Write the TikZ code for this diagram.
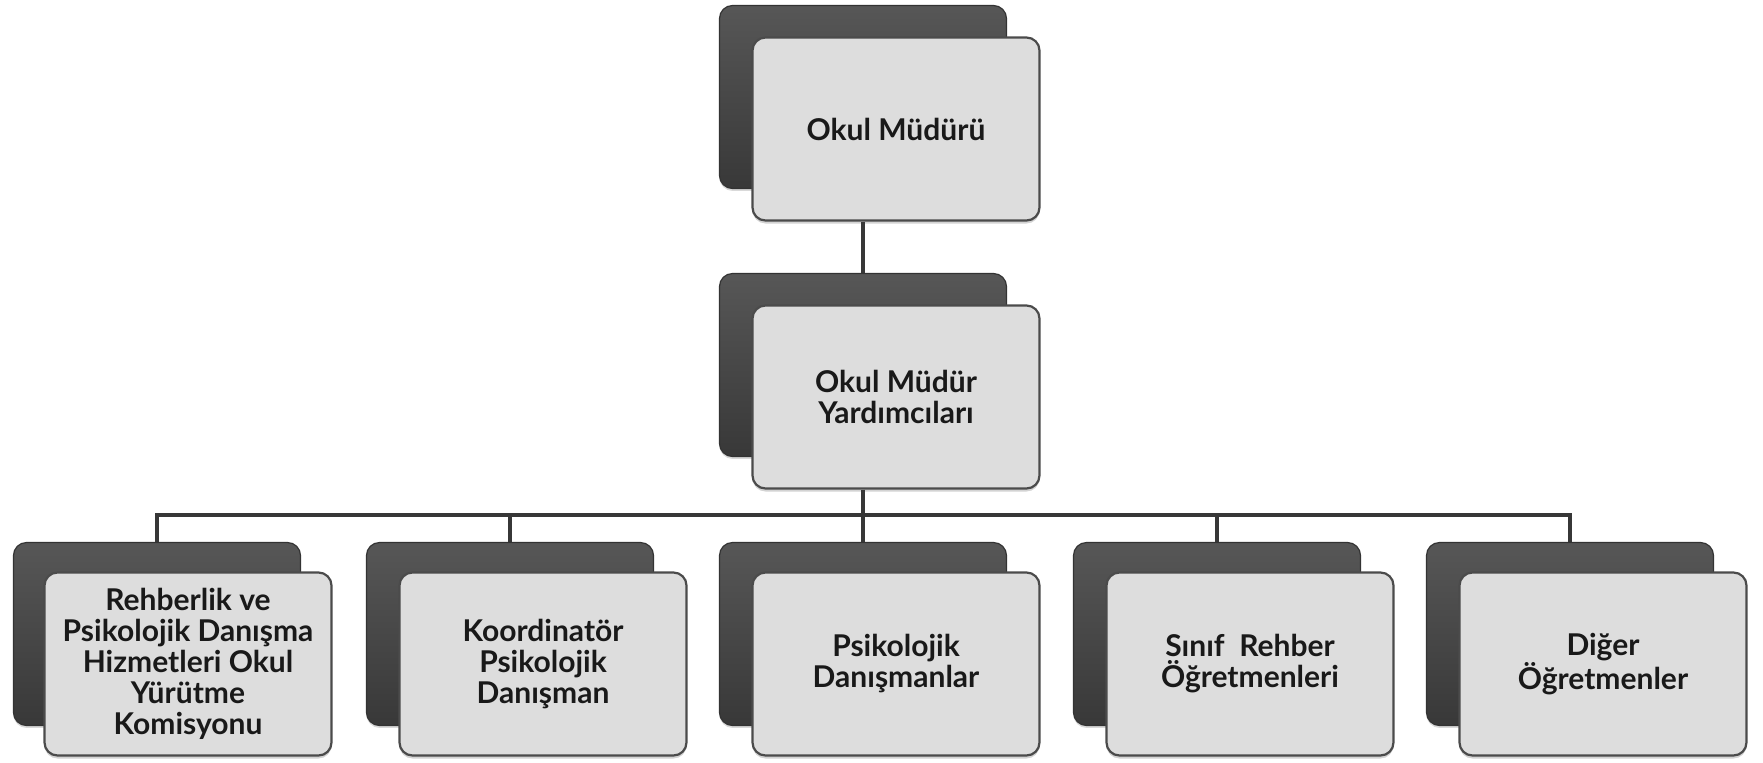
\documentclass[tikz,border=0pt]{standalone}
\usepackage{fontspec}
\setmainfont{Lato}
\usetikzlibrary{shadows}
\definecolor{darkgrey}{RGB}{66,66,66}
\definecolor{lightgrey}{RGB}{221,221,221}
\definecolor{edgegrey}{RGB}{75,75,75}
\definecolor{linegrey}{RGB}{55,55,55}
\tikzset{
   backbox/.style={rectangle, rounded corners=6.5pt, minimum width=143.5pt, minimum height=91.5pt,
      inner sep=0pt, top color=black!66, bottom color=black!78, draw=black!80, line width=0.6pt,
      drop shadow={shadow xshift=0pt, shadow yshift=-1.2pt, opacity=0.3}},
   frontbox/.style={rectangle, rounded corners=6.5pt, minimum width=143.5pt, minimum height=91.5pt,
      inner sep=0pt, fill=lightgrey, draw=edgegrey, line width=1.1pt, align=center, text=black!90,
      font=\bfseries\fontsize{15}{15.5}\selectfont,
      drop shadow={shadow xshift=0pt, shadow yshift=-1.5pt, opacity=0.35}},
   link/.style={draw=linegrey, line width=1.6pt}
}
\begin{document}
\begin{tikzpicture}[x=0.5pt,y=-0.5pt]
   \useasboundingbox (0,0) rectangle (1763,762);
   \node[backbox] (mudurback) at (863,97) {};
   \node[frontbox] (mudur) at (896,129) {Okul Müdürü};
   \node[backbox] (yardback) at (863,365) {};
   \node[frontbox] (yard) at (896,397) {Okul Müdür\\Yardımcıları};
   \node[backbox] (komback) at (157,634) {};
   \node[frontbox] (kom) at (188,664) {Rehberlik ve\\Psikolojik Danışma\\Hizmetleri Okul\\Yürütme\\Komisyonu};
   \node[backbox] (koordback) at (510,634) {};
   \node[frontbox] (koord) at (543,664) {Koordinatör\\Psikolojik\\Danışman};
   \node[backbox] (danback) at (863,634) {};
   \node[frontbox] (dan) at (896,664) {Psikolojik\\Danışmanlar};
   \node[backbox] (sinifback) at (1217,634) {};
   \node[frontbox] (sinif) at (1250,664) {Sınıf\ \ Rehber\\Öğretmenleri};
   \node[backbox] (digerback) at (1570,634) {};
   \node[frontbox] (diger) at (1603,664) {Diğer\\Öğretmenler};
   \coordinate (bus) at (863,515);
   \draw[link] (mudurback |- mudur.south) -- (yardback.north);
   \draw[link] (yardback |- yard.south) -- (bus);
   \draw[link] (komback.north) -- (komback.north |- bus) -- (digerback.north |- bus) -- (digerback.north);
   \draw[link] (koordback.north) -- (koordback.north |- bus);
   \draw[link] (danback.north) -- (bus);
   \draw[link] (sinifback.north) -- (sinifback.north |- bus);
\end{tikzpicture}
\end{document}
